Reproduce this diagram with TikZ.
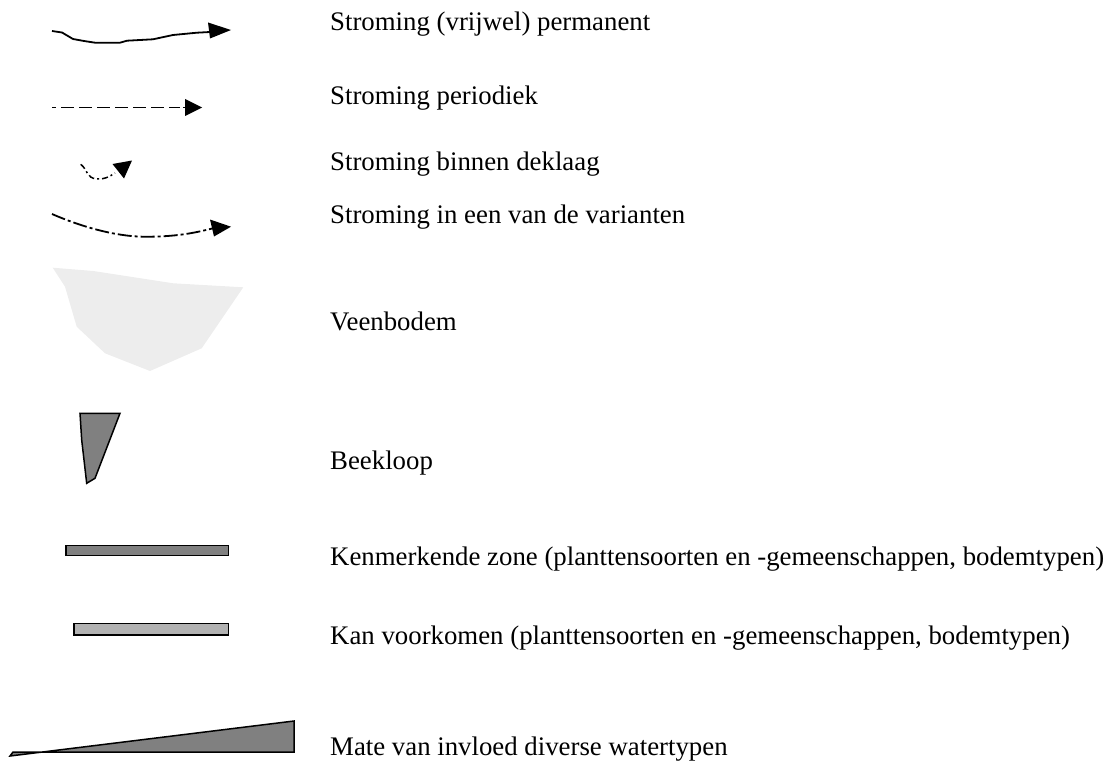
\documentclass[tikz,border=0pt]{standalone}
\usepackage{fontspec}
\setmainfont{Liberation Serif}
\begin{document}
\begin{tikzpicture}[x=1pt,y=-1pt,
  lbl/.style={anchor=base west,inner sep=0pt,font=\fontsize{26.8}{30}\selectfont},
  flow/.style={line width=1.8pt,black},
  head/.style={fill=black,draw=none},
  barbox/.style={draw=black,line width=1.6pt}]
\useasboundingbox (0,0) rectangle (1110,765);
% texts
\node[lbl] (t1) at (330,31) {Stroming (vrijwel) permanent};
\node[lbl] (t2) at (330,105) {Stroming periodiek};
\node[lbl] (t3) at (330,170) {Stroming binnen deklaag};
\node[lbl] (t4) at (330,223) {Stroming in een van de varianten};
\node[lbl] (t5) at (330,330) {Veenbodem};
\node[lbl] (t6) at (330,469) {Beekloop};
\node[lbl] (t7) at (330,565) {Kenmerkende zone (planttensoorten en -gemeenschappen, bodemtypen)};
\node[lbl] (t8) at (330,644) {Kan voorkomen (planttensoorten en -gemeenschappen, bodemtypen)};
\node[lbl] (t9) at (330,755) {Mate van invloed diverse watertypen};
% 1 permanent flow
\draw[flow] (52,31) -- (62,32.5) -- (73,39) -- (84,41) -- (95,42.7) -- (120,42.7) -- (127,40.7) -- (153,39.3) -- (173,35) -- (197,32.7) -- (210,32);
\fill[head] (231,30) -- (208,22.5) -- (210,38.5) -- cycle;
% 2 periodic flow
\draw[flow,dash pattern=on 4pt off 5pt on 13pt off 5pt on 13pt off 5pt on 13pt off 5pt on 13pt off 5pt on 13pt off 5pt on 13pt off 5pt on 11pt off 3pt on 3pt off 5pt on 40pt off 0pt] (52,107.5) -- (188,107.5);
\fill[head] (202,107.5) -- (185,99) -- (185,116) -- cycle;
% 3 within top layer
\draw[flow,line width=1.5pt,dash pattern=on 6pt off 3pt on 2pt off 3pt] (80.7,164.3) .. controls (88,170) and (86,178) .. (97,179) .. controls (104,179.5) and (109,177) .. (115,173);
\fill[head] (112.5,164) -- (132,160.5) -- (124,178.5) -- cycle;
% 4 variant flow
\draw[flow,dash pattern=on 14pt off 3pt on 3pt off 3pt] (52,214) .. controls (75,224) and (110,236) .. (143,236.7) .. controls (175,237) and (195,233) .. (214,228);
\fill[head] (231,226.7) -- (210,219.5) -- (214,236.5) -- cycle;
% 5 peat soil
\fill[black!7] (52.7,267.7) -- (93.3,271) -- (173.3,283.3) -- (243.3,287.3) -- (201.7,348.3) -- (150,371) -- (105,353.3) -- (76.7,326.7) -- (65,286.7) -- cycle;
% 6 brook
\filldraw[fill=black!50,draw=black,line width=1.5pt] (80,413.3) -- (120,413.3) -- (95,478.3) -- (86.7,483.3) -- (81.7,440) -- cycle;
% 7 characteristic zone bar
\filldraw[barbox,fill=black!50] (66,545.5) rectangle (228.3,555.5);
% 8 possible bar
\filldraw[barbox,fill=black!30] (74,623.5) rectangle (228.3,635);
% 9 wedge
\filldraw[fill=black!50,draw=black,line width=1.5pt] (294,721) -- (294,752) -- (13,752) -- (10,756) -- cycle;
\end{tikzpicture}
\end{document}
